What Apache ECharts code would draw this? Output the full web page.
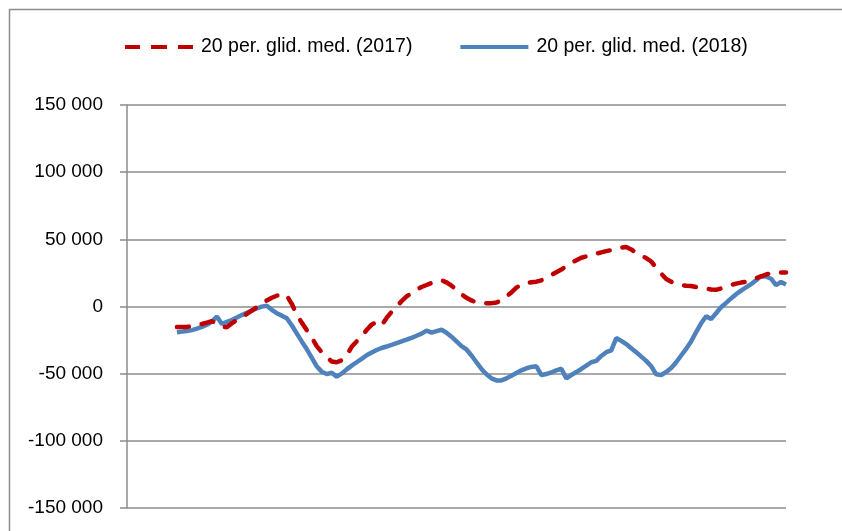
<!DOCTYPE html>
<html>
<head>
<meta charset="utf-8">
<script src="https://cdn.jsdelivr.net/npm/echarts@6/dist/echarts.min.js"></script>
<style>
  html, body { margin: 0; padding: 0; background: #fff; }
  #chart { width: 842px; height: 531px; }
</style>
</head>
<body>
<div id="chart"></div>
<script>
// series names
const seriesNames = ["20 per. glid. med. (2017)", "20 per. glid. med. (2018)"];

// y axis ticks
const yMin = -150000;
const yMax = 150000;
const yStep = 50000;

// the moving average starts after this many periods
const startIndex = 10;

const values2017 = [
  -15200, -15200, -15300, -14500, -13500, -13000, -12000, -11000, -12500, -15000,
  -15500, -12500, -10000, -8000, -5500, -3000, -500, 2500, 4500, 6500,
  8000, 9500, 8000, 2000, -6000, -12000, -17500, -23000, -29500, -34000,
  -37500, -41000, -41500, -40000, -36500, -30000, -26000, -22000, -17500, -13500,
  -11500, -14000, -8500, -4000, 0, 4000, 7500, 10000, 12500, 14500,
  16000, 17500, 19000, 19500, 18000, 15500, 12500, 9000, 6500, 4500,
  3000, 2500, 2500, 2500, 3000, 4500, 7500, 10500, 14000, 16500,
  17500, 18000, 18500, 19500, 21500, 23500, 25500, 27500, 30000, 32500,
  34500, 36300, 37300, 38300, 39300, 40300, 41200, 42000, 43000, 43800,
  44300, 42500, 40000, 38000, 36000, 33500, 29000, 24500, 20500, 18500,
  17000, 16000, 15400, 15300, 14500, 14000, 13300, 12700, 12400, 13500,
  14800, 16000, 17000, 17800, 18400, 19500, 21000, 22500, 23800, 24800,
  25300, 25400, 25400
];

const values2018 = [
  -19200, -18700, -18200, -17600, -16500, -15200, -13600, -11200, -7500, -13000,
  -11500, -10100, -8200, -6400, -4700, -3000, -1500, -100, 500, -2500,
  -5000, -6800, -8700, -14000, -20000, -26000, -31700, -38000, -44500, -48500,
  -50300, -49300, -52200, -50000, -46800, -44000, -41500, -39000, -36300, -34300,
  -32400, -30900, -29800, -28600, -27300, -26000, -24700, -23300, -21800, -20200,
  -18000, -19400, -18300, -17300, -19500, -22500, -26000, -29500, -32000, -36500,
  -41500, -46500, -50500, -53500, -55000, -55000, -53500, -51500, -49500, -47500,
  -46000, -45000, -44500, -51000, -50300, -49100, -47500, -46300, -53500, -51000,
  -48800, -46500, -44000, -41500, -40500, -36800, -34000, -32600, -23500, -25600,
  -28000, -31000, -34000, -37300, -40500, -44500, -50500, -51000, -48800, -45800,
  -41500, -36500, -31500, -26000, -19000, -12500, -7200, -9300, -5000, -500,
  2700, 6000, 9100, 11800, 14200, 16600, 19500, 22600, 22300, 20700,
  15900, 18300, 16400
];

const total = startIndex + values2018.length;
const categories = [];
for (let i = 1; i <= total; i++) categories.push(String(i));

function pad(arr) {
  return new Array(startIndex).fill(null).concat(arr);
}

function fmt(v) {
  return String(v).replace(/\B(?=(\d{3})+(?!\d))/g, " ");
}

const chart = echarts.init(document.getElementById("chart"));
const gray = "#8c8c8c";
const font = "Liberation Sans";
const red = "#c00000";
const blue = "#4f81bd";

chart.setOption({
  animation: false,
  backgroundColor: "#fff",
  graphic: [
    {
      type: "rect",
      left: 7,
      top: 7,
      shape: { width: 900, height: 600 },
      style: { fill: null, stroke: gray, lineWidth: 1.5 },
      silent: true,
    },
  ],
  legend: {
    left: 125,
    top: 37,
    padding: 0,
    itemWidth: 68,
    itemHeight: 4,
    itemGap: 48,
    itemStyle: { borderWidth: 0 },
    textStyle: { fontFamily: font, fontSize: 19.5, color: "#000", padding: [0, 0, 0, 3] },
    data: [
      // three dashes for the dashed series
      { name: seriesNames[0], icon: "path://M0,0h15v4h-15z M26,0h16v4h-16z M53,0h15v4h-15z" },
      { name: seriesNames[1], icon: "rect" },
    ],
  },
  grid: {
    left: 127,
    right: 56,
    top: 105,
    bottom: 23,
  },
  xAxis: {
    type: "category",
    boundaryGap: false,
    data: categories,
    axisLine: { show: false },
    axisTick: { show: false },
    axisLabel: { show: false },
    splitLine: { show: false },
  },
  yAxis: {
    type: "value",
    min: yMin,
    max: yMax,
    interval: yStep,
    axisLine: { show: true, lineStyle: { color: gray, width: 1.5 } },
    axisTick: { show: true, length: 7, lineStyle: { color: gray, width: 1.5 } },
    axisLabel: {
      margin: 24,
      fontFamily: font,
      fontSize: 19,
      color: "#000",
      formatter: fmt,
    },
    splitLine: { show: true, lineStyle: { color: gray, width: 1.5 } },
  },
  series: [
    {
      name: seriesNames[0],
      type: "line",
      data: pad(values2017),
      symbol: "none",
      z: 3,
      lineStyle: {
        color: red,
        width: 4.5,
        type: [12, 13],
        cap: "round",
      },
      itemStyle: { color: red },
    },
    {
      name: seriesNames[1],
      type: "line",
      data: pad(values2018),
      symbol: "none",
      z: 2,
      lineStyle: { color: blue, width: 4.5 },
      itemStyle: { color: blue },
    },
  ],
});
</script>
</body>
</html>
